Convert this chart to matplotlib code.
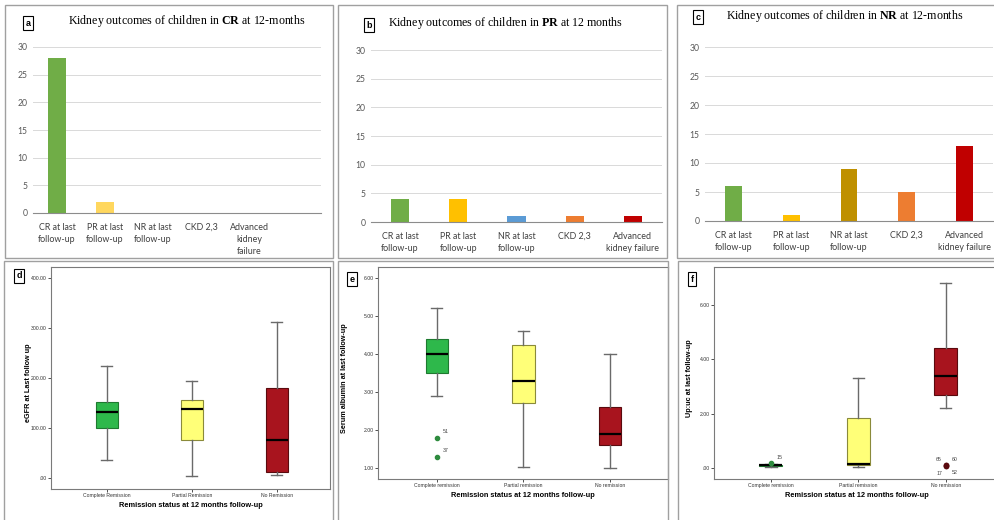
import matplotlib
matplotlib.use("Agg")
import matplotlib.pyplot as plt
from matplotlib.patches import Rectangle

W, H = 995, 520

# ---- data: bar panels (counts) ----
bar_cats_a = ["CR at last\nfollow-up", "PR at last\nfollow-up", "NR at last\nfollow-up", "CKD 2,3", "Advanced\nkidney\nfailure", ""]
bar_cats = ["CR at last\nfollow-up", "PR at last\nfollow-up", "NR at last\nfollow-up", "CKD 2,3", "Advanced\nkidney failure"]
cr_counts = [28, 2, 0, 0, 0]
pr_counts = [4, 4, 1, 1, 1]
nr_counts = [6, 1, 9, 5, 13]
bar_ticks = [0, 5, 10, 15, 20, 25, 30]

# ---- data: box panels (precomputed stats) ----
groups_cap = ["Complete Remission", "Partial Remission", "No Remission"]
groups_low = ["Complete remission", "Partial remission", "No remission"]

egfr_wlo = [37, 5, 6]
egfr_q1 = [100, 76, 12]
egfr_med = [133, 138, 77]
egfr_q3 = [153, 157, 181]
egfr_whi = [224, 195, 312]

alb_wlo = [2.9, 1.02, 1.0]
alb_q1 = [3.5, 2.7, 1.6]
alb_med = [4.0, 3.3, 1.9]
alb_q3 = [4.4, 4.25, 2.6]
alb_whi = [5.2, 4.6, 4.0]
alb_fliers = [[1.8, 1.3], [], []]
alb_flier_ids = [["51", "37"], [], []]

upuc_wlo = [0.05, 0.05, 2.2]
upuc_q1 = [0.08, 0.10, 2.7]
upuc_med = [0.11, 0.15, 3.4]
upuc_q3 = [0.13, 1.85, 4.4]
upuc_whi = [0.15, 3.3, 6.8]
upuc_fliers = [[0.18], [], [0.12, 0.11, 0.07, 0.08]]
upuc_flier_ids = [["15"], [], ["65", "60", "17", "52"]]

box_colors = ["#2EB84B", "#FFFF78", "#A8141E"]
box_edges = ["#1E7A30", "#8A8A3A", "#5A0A0E"]

plt.rcParams["mathtext.fontset"] = "custom"
plt.rcParams["mathtext.rm"] = "Liberation Serif"
plt.rcParams["mathtext.bf"] = "Liberation Serif:bold"

fig = plt.figure(figsize=(W / 100, H / 100), dpi=100)
fig.patch.set_facecolor("white")


def px_ax(x0, y0, x1, y1):
    return fig.add_axes([x0 / W, 1 - y1 / H, (x1 - x0) / W, (y1 - y0) / H])


def frame(x0, y0, x1, y1):
    fig.add_artist(Rectangle((x0 / W, 1 - y1 / H), (x1 - x0) / W, (y1 - y0) / H,
                             transform=fig.transFigure, fill=False, ec="#a0a0a0", lw=1))


def tag(x, y, s):
    fig.text(x / W, 1 - y / H, s, ha="center", va="center", fontsize=6.5,
             family="Liberation Sans", weight="bold",
             bbox=dict(boxstyle="square,pad=0.25", fc="white", ec="black", lw=0.8))


# outer frames
frame(5, 5, 333, 258)
frame(338, 5, 667, 258)
frame(677, 5, 998, 258)
frame(4, 261, 333, 522)
frame(338, 261, 668, 522)
frame(678, 261, 998, 522)


def bar_panel(rect, cats, vals, colors, width, title, tx, ty):
    ax = px_ax(*rect)
    ax.bar(range(len(vals)), vals, width=width, color=colors, zorder=3)
    ax.set_xlim(-0.5, len(cats) - 0.5)
    ax.set_ylim(0, 30)
    ax.set_yticks(bar_ticks)
    ax.set_xticks(range(len(cats)))
    ax.set_xticklabels(cats, fontsize=6.4, family="Lato", color="#404040", linespacing=1.45, va="top")
    ax.tick_params(axis="x", length=0, pad=7)
    ax.tick_params(axis="y", length=0, labelsize=6.2, labelcolor="#595959", pad=4)
    for lab in ax.get_yticklabels():
        lab.set_family("Lato")
    ax.grid(axis="y", color="#d9d9d9", lw=0.7, zorder=0)
    for s in ["top", "right", "left"]:
        ax.spines[s].set_visible(False)
    ax.spines["bottom"].set_color("#8c8c8c")
    ax.spines["bottom"].set_zorder(4)
    fig.text(tx / W, 1 - ty / H, title, ha="center", va="center", fontsize=8.6,
             family="Liberation Serif")
    return ax


bar_panel((33, 47, 321, 213), bar_cats_a, cr_counts,
          ["#70AD47", "#FFD75E", "#5B9BD5", "#ED7D31", "#C00000"], 0.37,
          r"Kidney outcomes of children in $\mathbf{CR}$ at 12-months", 187, 21)
bar_panel((371, 50, 662, 222), bar_cats, pr_counts,
          ["#70AD47", "#FFC000", "#5B9BD5", "#ED7D31", "#C00000"], 0.31,
          r"Kidney outcomes of children in $\mathbf{PR}$ at 12 months", 506, 23)
bar_panel((705, 47, 993, 221), bar_cats, nr_counts,
          ["#70AD47", "#FFC000", "#BF9000", "#ED7D31", "#C00000"], 0.29,
          r"Kidney outcomes of children in $\mathbf{NR}$ at 12-months", 845, 16)
tag(28, 23, "a")
tag(369, 25, "b")
tag(698, 17, "c")


def box_panel(rect, xlim, ylim, yticks, ytlabels, cats, wlo, q1, med, q3, whi,
              fliers, flier_ids, ylabel, ylab_x):
    ax = px_ax(*rect)
    stats = []
    for i in range(3):
        stats.append(dict(whislo=wlo[i], q1=q1[i], med=med[i], q3=q3[i], whishi=whi[i],
                          fliers=[]))
    parts = ax.bxp(stats, positions=[1, 2, 3], widths=0.26, capwidths=0.13,
                   patch_artist=True, showfliers=False,
                   medianprops=dict(color="black", lw=1.6),
                   whiskerprops=dict(color="#6a6a6a", lw=1.0),
                   capprops=dict(color="#6a6a6a", lw=1.0))
    for b, c, e in zip(parts["boxes"], box_colors, box_edges):
        b.set_facecolor(c)
        b.set_edgecolor(e)
        b.set_linewidth(0.8)
    for i in range(3):
        for v in fliers[i]:
            ax.plot(i + 1, v, "o", ms=3, color=box_edges[i] if i else "#2E8B3E", zorder=5)
        for k, (v, lab) in enumerate(zip(fliers[i], flier_ids[i])):
            if i == 2:
                offs = [(-7, 3), (4, 3), (-7, -6), (4, -6)][k]
            else:
                offs = (4, 3)
            ax.annotate(lab, (i + 1, v), xytext=offs, textcoords="offset points",
                        fontsize=3.8, family="Liberation Sans", color="#444444")
    ax.set_xlim(*xlim)
    ax.set_ylim(*ylim)
    ax.set_yticks(yticks)
    ax.set_yticklabels(ytlabels)
    ax.set_xticks([1, 2, 3])
    ax.set_xticklabels(cats)
    ax.tick_params(labelsize=3.7, colors="#333333", length=2, width=0.6, pad=1)
    for lab in ax.get_xticklabels() + ax.get_yticklabels():
        lab.set_family("Liberation Sans")
    for s in ax.spines.values():
        s.set_color("#7a7a7a")
        s.set_linewidth(0.8)
    ax.set_xlabel("Remission status at 12 months follow-up", fontsize=5.3,
                  weight="bold", family="Liberation Sans", labelpad=3)
    fig.text(ylab_x / W, 1 - ((rect[1] + rect[3]) / 2 + 5) / H, ylabel, rotation=90,
             ha="center", va="center", fontsize=5.2, weight="bold", family="Liberation Sans")
    return ax


box_panel((51, 267, 330, 489), (0.34, 3.63), (-22, 422),
          [0, 100, 200, 300, 400], [".00", "100.00", "200.00", "300.00", "400.00"],
          groups_cap, egfr_wlo, egfr_q1, egfr_med, egfr_q3, egfr_whi,
          [[], [], []], [[], [], []], "eGFR at Last follow up", 29)
box_panel((378, 267, 668, 479), (0.32, 3.67), (0.71, 6.29),
          [1, 2, 3, 4, 5, 6], ["1.00", "2.00", "3.00", "4.00", "5.00", "6.00"],
          groups_low, alb_wlo, alb_q1, alb_med, alb_q3, alb_whi,
          alb_fliers, alb_flier_ids, "Serum albumin at last follow-up", 345)
box_panel((714, 267, 1000, 479), (0.35, 3.62), (-0.40, 7.39),
          [0, 2, 4, 6], [".00", "2.00", "4.00", "6.00"],
          groups_low, upuc_wlo, upuc_q1, upuc_med, upuc_q3, upuc_whi,
          upuc_fliers, upuc_flier_ids, "Up:uc at last follow-up", 690)
tag(19, 276, "d")
tag(352, 279, "e")
tag(692, 279, "f")

fig.savefig("out.png", dpi=100)
